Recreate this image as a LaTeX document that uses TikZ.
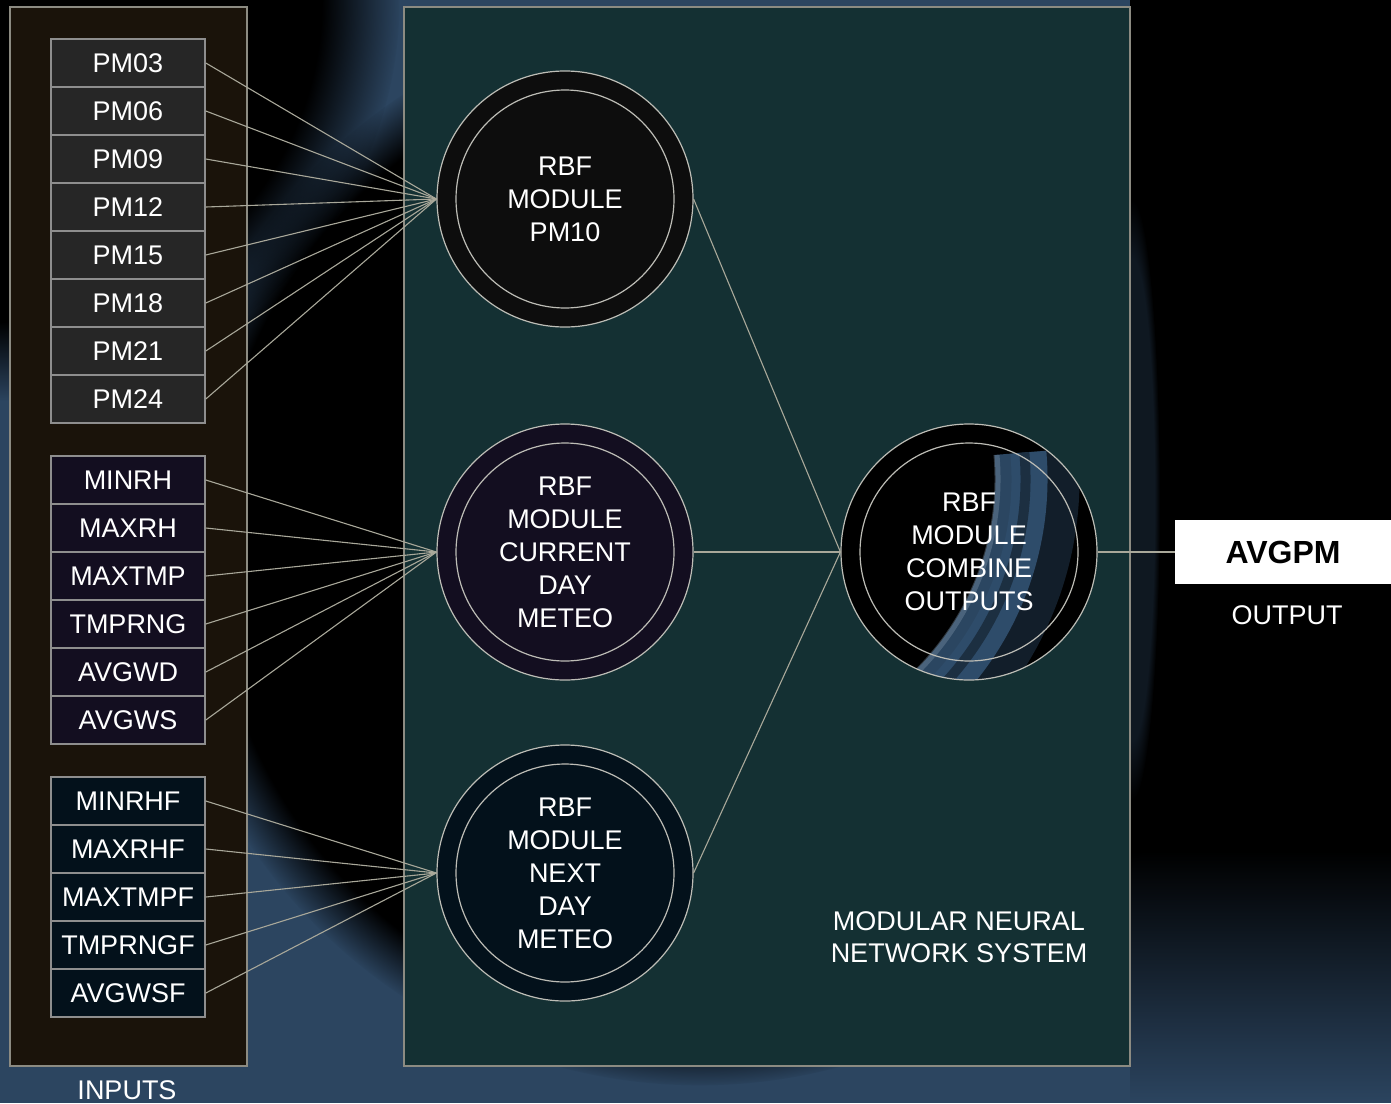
\documentclass[tikz,border=0pt]{standalone}
\usepackage{fontspec}
\setmainfont{Liberation Sans}
\usetikzlibrary{fadings}
\pgfdeclarelayer{background}
\pgfsetlayers{background,main}
\definecolor{bgblue}{HTML}{2C4560}
\definecolor{inbrown}{HTML}{1A130A}
\definecolor{midteal}{HTML}{143033}
\definecolor{pmgray}{HTML}{262626}
\definecolor{metpurple}{HTML}{130E20}
\definecolor{fcnavy}{HTML}{03111B}
\definecolor{panelline}{HTML}{8C8B82}
\definecolor{cellline}{HTML}{8E8E8E}
\definecolor{linkcol}{HTML}{A9A89A}
\definecolor{ringline}{HTML}{BDBDB6}
\definecolor{swirl}{HTML}{36587A}
\tikzfading[name=fade down, top color=transparent!0, bottom color=transparent!100]

\begin{document}
\begin{tikzpicture}[x=0.5pt, y=-0.5pt]
\tikzstyle{cell}=[draw=cellline, line width=0.8pt, minimum width=77pt, minimum height=24pt, inner sep=0pt, text=white, font=\fontsize{13.5}{16.5}\selectfont, node distance=24pt]
\tikzstyle{module}=[circle, draw=ringline, line width=0.6pt, minimum size=128pt, inner sep=0pt, align=center, text=white, font=\fontsize{13.5}{16.5}\selectfont]
\tikzstyle{ring}=[draw=ringline, line width=0.6pt]
\tikzstyle{link}=[draw=linkcol, line width=0.55pt]
\tikzstyle{panel}=[draw=panelline, line width=0.8pt]
\tikzstyle{lbl}=[text=white, align=center, font=\fontsize{13.5}{16}\selectfont]
\useasboundingbox (0,0) rectangle (1391,1103);

\begin{pgfonlayer}{background}
	% backdrop
	\fill[bgblue] (0,0) rectangle (1391,1103);
	\fill[black, path fading=circle with fuzzy edge 10 percent] (700,545) circle (270pt);
	\fill[black, path fading=circle with fuzzy edge 20 percent] (0,0) circle (200pt);
	\fill[black] (1130,0) rectangle (1391,850);
	\fill[black, path fading=fade down] (1130,850) rectangle (1391,1103);
	\fill[bgblue, opacity=.35, path fading=circle with fuzzy edge 20 percent] (1132,500) ellipse (14pt and 150pt);
	% panels
	\draw[panel, fill=inbrown] (10,7) rectangle (247,1066);
	\draw[panel, fill=midteal] (404,7) rectangle (1130,1066);
\end{pgfonlayer}

	% inputs
	\node[cell, fill=pmgray] (pm03) at (128,63) {PM03};
	\node[cell, fill=pmgray, below of=pm03] (pm06) {PM06};
	\node[cell, fill=pmgray, below of=pm06] (pm09) {PM09};
	\node[cell, fill=pmgray, below of=pm09] (pm12) {PM12};
	\node[cell, fill=pmgray, below of=pm12] (pm15) {PM15};
	\node[cell, fill=pmgray, below of=pm15] (pm18) {PM18};
	\node[cell, fill=pmgray, below of=pm18] (pm21) {PM21};
	\node[cell, fill=pmgray, below of=pm21] (pm24) {PM24};

	\node[cell, fill=metpurple] (minrh) at (128,480) {MINRH};
	\node[cell, fill=metpurple, below of=minrh] (maxrh) {MAXRH};
	\node[cell, fill=metpurple, below of=maxrh] (maxtmp) {MAXTMP};
	\node[cell, fill=metpurple, below of=maxtmp] (tmprng) {TMPRNG};
	\node[cell, fill=metpurple, below of=tmprng] (avgwd) {AVGWD};
	\node[cell, fill=metpurple, below of=avgwd] (avgws) {AVGWS};

	\node[cell, fill=fcnavy] (minrhf) at (128,801) {MINRHF};
	\node[cell, fill=fcnavy, below of=minrhf] (maxrhf) {MAXRHF};
	\node[cell, fill=fcnavy, below of=maxrhf] (maxtmpf) {MAXTMPF};
	\node[cell, fill=fcnavy, below of=maxtmpf] (tmprngf) {TMPRNGF};
	\node[cell, fill=fcnavy, below of=tmprngf] (avgwsf) {AVGWSF};

	\node[lbl] (inputs) at (127,1090) {INPUTS};

	% modules
	\node[module, fill=black!95] (pm10) at (565,199) {RBF\\MODULE\\PM10};
	\node[module, fill=metpurple] (cur) at (565,552) {RBF\\MODULE\\CURRENT\\DAY\\METEO};
	\node[module, fill=fcnavy] (next) at (565,873) {RBF\\MODULE\\NEXT\\DAY\\METEO};
	\node[module, fill=black, path picture={
		\begin{scope}[shift={(path picture bounding box.center)}]
		\draw[swirl, line width=34pt, opacity=.35] (-179,-132) ++(5:160pt) arc[start angle=5, end angle=-85, radius=160pt];
		\draw[swirl, line width=26pt, opacity=.8] (-179,-132) ++(5:148pt) arc[start angle=5, end angle=-85, radius=148pt];
		\draw[swirl!60!white, line width=3pt, opacity=.35] (-179,-132) ++(5:136pt) arc[start angle=5, end angle=-85, radius=136pt];
		\draw[black!55!swirl, line width=5pt, opacity=.8] (-179,-132) ++(5:150pt) arc[start angle=5, end angle=-85, radius=150pt];
		\end{scope}}] (comb) at (969,552) {RBF\\MODULE\\COMBINE\\OUTPUTS};
	\draw[ring] (pm10.center) circle (54.5pt);
	\draw[ring] (cur.center) circle (54.5pt);
	\draw[ring] (next.center) circle (54.5pt);
	\draw[ring] (comb.center) circle (54.5pt);

	\node[lbl] (mnns) at (959,937) {MODULAR NEURAL\\NETWORK SYSTEM};

	% output
	\node[fill=white, minimum width=108pt, minimum height=32pt, inner sep=0pt, font=\fontsize{16}{19}\bfseries] (avgpm) at (1283,552) {AVGPM};
	\node[lbl] (output) at (1287,615) {OUTPUT};

	\draw[link] (pm03.east) -- (pm10.west);
	\draw[link] (pm06.east) -- (pm10.west);
	\draw[link] (pm09.east) -- (pm10.west);
	\draw[link] (pm12.east) -- (pm10.west);
	\draw[link] (pm15.east) -- (pm10.west);
	\draw[link] (pm18.east) -- (pm10.west);
	\draw[link] (pm21.east) -- (pm10.west);
	\draw[link] (pm24.east) -- (pm10.west);

	\draw[link] (minrh.east) -- (cur.west);
	\draw[link] (maxrh.east) -- (cur.west);
	\draw[link] (maxtmp.east) -- (cur.west);
	\draw[link] (tmprng.east) -- (cur.west);
	\draw[link] (avgwd.east) -- (cur.west);
	\draw[link] (avgws.east) -- (cur.west);

	\draw[link] (minrhf.east) -- (next.west);
	\draw[link] (maxrhf.east) -- (next.west);
	\draw[link] (maxtmpf.east) -- (next.west);
	\draw[link] (tmprngf.east) -- (next.west);
	\draw[link] (avgwsf.east) -- (next.west);

	\draw[link] (pm10.east) -- (comb.west);
	\draw[link] (cur.east) -- (comb.west);
	\draw[link] (next.east) -- (comb.west);
	\draw[link] (comb.east) -- (avgpm.west);
\end{tikzpicture}
\end{document}
